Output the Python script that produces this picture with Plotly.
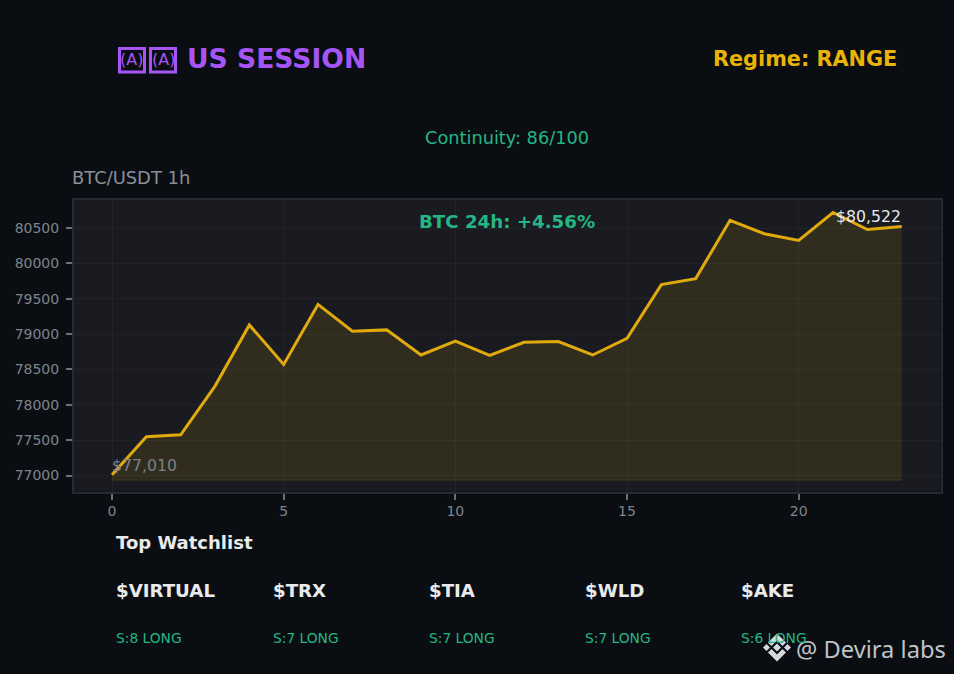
import plotly.graph_objects as go

W, H = 954, 674
hours = list(range(24))
prices = [77010, 77550, 77575, 78265, 79130, 78570, 79420, 79040, 79060, 78705, 78900, 78700,
          78885, 78895, 78705, 78940, 79700, 79785, 80610, 80420, 80325, 80720, 80480, 80522]
fill_floor = [76933] * 24
x_ticks = [0, 5, 10, 15, 20]
y_ticks = [77000, 77500, 78000, 78500, 79000, 79500, 80000, 80500]
watch_names = ["$VIRTUAL", "$TRX", "$TIA", "$WLD", "$AKE"]
watch_scores = ["S:8 LONG", "S:7 LONG", "S:7 LONG", "S:7 LONG", "S:6 LONG"]
watch_px = [116, 272.5, 429, 585, 741]

BG = "#0a0e12"
PANEL = "#1a1b21"
FONT = "DejaVu Sans"
GREEN = "#26b585"
PURPLE = "#a855f7"
AMBER = "#eab308"
LINE = "#e0a90e"
FILL = "rgba(224,190,20,0.11)"
WHITE = "#e8eaec"


def px(x):
    return x / W


def py(y):
    return 1 - y / H


def txt(x, y, s, size, color, bold=False, anchor="left", family=FONT):
    return dict(x=px(x), y=py(y), xref="paper", yref="paper", text=f"<b>{s}</b>" if bold else s,
                showarrow=False, xanchor=anchor, yanchor="middle",
                font=dict(size=size, color=color, family=family))


fig = go.Figure()
fig.add_trace(go.Scatter(x=hours, y=fill_floor, mode="lines", line=dict(width=1, color=FILL), hoverinfo="skip"))
fig.add_trace(go.Scatter(x=hours, y=prices, mode="lines", fill="tonexty",
                         fillcolor=FILL, line=dict(color=LINE, width=3)))

ann = [
    txt(131.8, 59.5, "(A)", 16, PURPLE, False, "center"),
    txt(163, 59.5, "(A)", 16, PURPLE, False, "center"),
    txt(185, 59, "US SESSION", 26.6, PURPLE, True),
    txt(899, 59, "Regime: RANGE", 20.8, AMBER, True, "right"),
    txt(507, 138, "Continuity: 86/100", 17.75, GREEN, False, "center"),
    txt(70, 177.5, "BTC/USDT 1h", 17.9, "#8b8f98"),
    txt(506.5, 222, "BTC 24h: +4.56%", 18.2, GREEN, True, "center"),
    txt(114, 542.5, "Top Watchlist", 18, WHITE, True),
    dict(x=hours[0], y=prices[0], xref="x", yref="y", text="$77,010", showarrow=False, xanchor="left",
         yanchor="bottom", xshift=-2, yshift=-2, font=dict(size=15.7, color="#7d8088", family=FONT)),
    dict(x=hours[-1], y=prices[-1], xref="x", yref="y", text="$80,522", showarrow=False, xanchor="right",
         yanchor="bottom", xshift=1, yshift=-1, font=dict(size=15.7, color=WHITE, family=FONT)),
    txt(794, 648.5, "@ Devira labs", 23.7, "#bfc3c8", False, "left", "Noto Sans"),
]
for name, score, x in zip(watch_names, watch_scores, watch_px):
    ann.append(txt(x - 2, 590.5, name, 18.2, WHITE, True))
    ann.append(txt(x - 2, 638, score, 13.8, GREEN))


def poly(points):
    return dict(type="path", xref="paper", yref="paper", line=dict(width=0), fillcolor="#d5d8dc",
                path="M" + " L".join(f"{px(a):.5f},{py(b):.5f}" for a, b in points) + " Z")


def box(x0, y0, x1, y1):
    return dict(type="rect", xref="paper", yref="paper", x0=px(x0), x1=px(x1), y0=py(y0), y1=py(y1),
                line=dict(width=3, color=PURPLE), fillcolor="rgba(0,0,0,0)")


cx, cy = 777, 647.5
shapes = [
    box(119.5, 48.5, 144.5, 72),
    box(150.5, 48.5, 175.5, 72),
    poly([(cx, cy - 4), (cx + 4, cy), (cx, cy + 4), (cx - 4, cy)]),
    poly([(cx - 14, cy), (cx - 10.5, cy - 3.5), (cx - 7, cy), (cx - 10.5, cy + 3.5)]),
    poly([(cx + 14, cy), (cx + 10.5, cy - 3.5), (cx + 7, cy), (cx + 10.5, cy + 3.5)]),
    poly([(cx, cy - 14), (cx + 9, cy - 5), (cx + 5.5, cy - 1.5), (cx, cy - 7), (cx - 5.5, cy - 1.5), (cx - 9, cy - 5)]),
    poly([(cx, cy + 14), (cx + 9, cy + 5), (cx + 5.5, cy + 1.5), (cx, cy + 7), (cx - 5.5, cy + 1.5), (cx - 9, cy + 5)]),
]

axis_common = dict(showgrid=True, gridcolor="#212329", gridwidth=1, zeroline=False, showline=True,
                   linecolor="#262a33", linewidth=2, mirror=True, ticks="outside", ticklen=6, tickwidth=1.5,
                   tickcolor="#6b6f78", tickfont=dict(size=14, color="#7f838c", family=FONT))

fig.update_layout(
    width=W, height=H, margin=dict(l=0, r=0, t=0, b=0), autosize=False, showlegend=False,
    paper_bgcolor=BG, plot_bgcolor=PANEL,
    xaxis=dict(domain=[px(74), px(940.5)], range=[-1.107, 24.13], tickvals=x_ticks, **axis_common),
    yaxis=dict(domain=[py(491.5), py(200)], range=[76774, 80897], tickvals=y_ticks, tickformat="d",
               ticklabelstandoff=4, **axis_common),
    annotations=ann, shapes=shapes,
)
fig.write_html("out.html", config=dict(displayModeBar=False),
               post_script=f"document.body.style.margin='0';document.body.style.background='{BG}';document.body.style.overflow='hidden';")
